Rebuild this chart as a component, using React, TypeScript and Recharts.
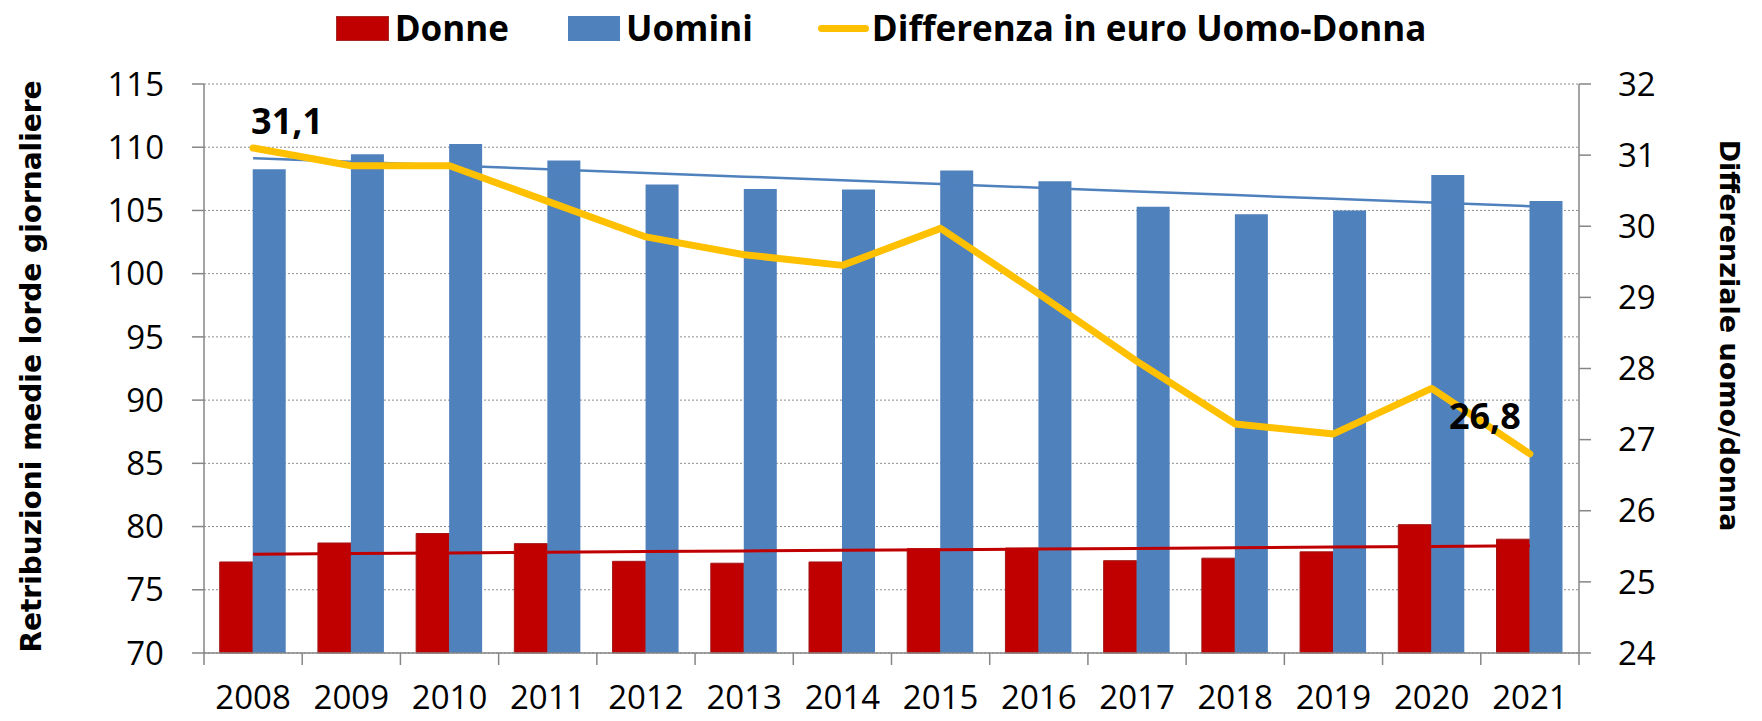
import React from 'react';
import {
  ComposedChart,
  Bar,
  Line,
  XAxis,
  YAxis,
  CartesianGrid,
  LabelList,
} from 'recharts';

const years = ['2008', '2009', '2010', '2011', '2012', '2013', '2014', '2015', '2016', '2017', '2018', '2019', '2020', '2021'];
const donne = [77.2, 78.7, 79.45, 78.65, 77.25, 77.1, 77.2, 78.25, 78.3, 77.3, 77.5, 78.0, 80.15, 79.0];
const uomini = [108.25, 109.45, 110.25, 108.95, 107.05, 106.7, 106.65, 108.15, 107.3, 105.3, 104.7, 105.0, 107.8, 105.75];
const differenza = [31.1, 30.85, 30.85, 30.35, 29.85, 29.6, 29.45, 29.97, 29.05, 28.1, 27.22, 27.08, 27.72, 26.8];
const leftTicks = [70, 75, 80, 85, 90, 95, 100, 105, 110, 115];
const rightTicks = [24, 25, 26, 27, 28, 29, 30, 31, 32];

const legendLabels = { donne: 'Donne', uomini: 'Uomini', diff: 'Differenza in euro Uomo-Donna' };
const leftTitle = 'Retribuzioni medie lorde giornaliere';
const rightTitle = 'Differenziale uomo/donna';

// linear (least squares) trendline of a series, as in the spreadsheet trendline
function linearTrend(vals: number[]): number[] {
  const n = vals.length;
  const mx = (n - 1) / 2;
  const my = vals.reduce((a, b) => a + b, 0) / n;
  let sxy = 0;
  let sxx = 0;
  vals.forEach((v, i) => {
    sxy += (i - mx) * (v - my);
    sxx += (i - mx) * (i - mx);
  });
  const slope = sxy / sxx;
  return vals.map((_, i) => my + slope * (i - mx));
}

const trendD = linearTrend(donne);
const trendU = linearTrend(uomini);

const data = years.map((y, i) => ({
  year: y,
  donne: donne[i],
  uomini: uomini[i],
  diff: differenza[i],
  trendD: trendD[i],
  trendU: trendU[i],
}));

const RED = '#C00000';
const BLUE = '#4F81BD';
const YELLOW = '#FFC000';
const AXIS = '#868686';
const TICK_FONT = "'Open Sans', sans-serif";
const TITLE_FONT = "'DejaVu Sans', Verdana, sans-serif";

const fmt = (v: number) => v.toFixed(1).replace('.', ',');

const XTick = (props: any) => {
  const { x, y, payload, index, visibleTicksCount, width } = props;
  const band = width / visibleTicksCount;
  const left = x - band / 2;
  const right = x + band / 2;
  return (
    <g>
      <line x1={left} x2={left} y1={y} y2={y + 12} stroke={AXIS} strokeWidth={1.5} />
      {index === visibleTicksCount - 1 && (
        <line x1={right} x2={right} y1={y} y2={y + 12} stroke={AXIS} strokeWidth={1.5} />
      )}
      <text x={x} y={y + 44} dy="0.36em" textAnchor="middle" fontSize={33} fontFamily={TICK_FONT} fill="#000">
        {payload.value}
      </text>
    </g>
  );
};

const renderDiffLabel = (props: any) => {
  const { x, y, index, value } = props;
  const last = years.length - 1;
  if (index !== 0 && index !== last) return null;
  const first = index === 0;
  return (
    <text
      x={x + (first ? 34 : -45)}
      y={y + (first ? -27 : -38)}
      dy="0.36em"
      textAnchor="middle"
      fontSize={36}
      fontWeight="bold"
      fontFamily={TICK_FONT}
      fill="#000"
    >
      {fmt(value)}
    </text>
  );
};

const LeftTitle = (props: any) => {
  const { viewBox } = props;
  const cx = viewBox.x + 31;
  const cy = viewBox.y + viewBox.height / 2 - 2;
  return (
    <text
      x={cx}
      y={cy}
      dy="0.36em"
      transform={`rotate(-90 ${cx} ${cy})`}
      textAnchor="middle"
      fontSize={28}
      fontWeight="bold"
      fontFamily={TITLE_FONT}
      fill="#000"
    >
      {leftTitle}
    </text>
  );
};

const RightTitle = (props: any) => {
  const { viewBox } = props;
  const cx = viewBox.x + 151;
  const cy = viewBox.y + viewBox.height / 2 - 33;
  return (
    <text
      x={cx}
      y={cy}
      dy="0.36em"
      transform={`rotate(90 ${cx} ${cy})`}
      textAnchor="middle"
      fontSize={27}
      fontWeight="bold"
      fontFamily={TITLE_FONT}
      fill="#000"
    >
      {rightTitle}
    </text>
  );
};

const legendText: React.CSSProperties = {
  fontFamily: TICK_FONT,
  fontWeight: 700,
  fontSize: 35,
  color: '#000',
  lineHeight: '34px',
  whiteSpace: 'nowrap',
};

const Legend = () => (
  <div
    style={{
      position: 'absolute',
      top: 11,
      left: 0,
      width: 1762,
      height: 34,
      display: 'flex',
      justifyContent: 'center',
      alignItems: 'center',
    }}
  >
    <div style={{ width: 53, height: 25, background: RED, border: '1px solid #A52A2A', boxSizing: 'border-box' }} />
    <div style={{ ...legendText, marginLeft: 6 }}>{legendLabels.donne}</div>
    <div style={{ width: 52, height: 25, background: BLUE, marginLeft: 59 }} />
    <div style={{ ...legendText, marginLeft: 6 }}>{legendLabels.uomini}</div>
    <div style={{ width: 51, height: 7, background: YELLOW, borderRadius: 4, marginLeft: 65 }} />
    <div style={{ ...legendText, marginLeft: 3 }}>{legendLabels.diff}</div>
  </div>
);

export default function App() {
  return (
    <div style={{ position: 'absolute', left: 0, top: 0, width: 1762, height: 721, background: '#fff' }}>
      <Legend />
      <ComposedChart
        width={1762}
        height={721}
        data={data}
        margin={{ top: 84, right: 0, bottom: 0, left: 0 }}
        barCategoryGap="16%"
        barGap={0}
      >
        <CartesianGrid
          yAxisId="left"
          vertical={false}
          stroke="#8c8c8c"
          strokeDasharray="2 2"
        />
        <XAxis
          dataKey="year"
          height={68}
          tickLine={false}
          tickSize={0}
          tickMargin={0}
          axisLine={{ stroke: AXIS, strokeWidth: 1.5 }}
          tick={<XTick />}
          interval={0}
        />
        <YAxis
          yAxisId="left"
          orientation="left"
          width={204}
          domain={[70, 115]}
          ticks={leftTicks}
          interval={0}
          tickSize={12}
          tickMargin={28}
          axisLine={{ stroke: AXIS, strokeWidth: 1.5 }}
          tickLine={{ stroke: AXIS, strokeWidth: 1.5 }}
          tick={{ fontSize: 33, fontFamily: TICK_FONT, fill: '#000' }}
          label={<LeftTitle />}
        />
        <YAxis
          yAxisId="right"
          orientation="right"
          width={183}
          domain={[24, 32]}
          ticks={rightTicks}
          interval={0}
          tickSize={12}
          tickMargin={27}
          axisLine={{ stroke: AXIS, strokeWidth: 1.5 }}
          tickLine={{ stroke: AXIS, strokeWidth: 1.5 }}
          tick={{ fontSize: 33, fontFamily: TICK_FONT, fill: '#000' }}
          label={<RightTitle />}
        />
        <Bar yAxisId="left" dataKey="donne" fill={RED} stroke="#A31515" strokeWidth={1} isAnimationActive={false} />
        <Bar yAxisId="left" dataKey="uomini" fill={BLUE} isAnimationActive={false} />
        <Line
          yAxisId="left"
          dataKey="trendD"
          stroke={RED}
          strokeWidth={3}
          dot={false}
          activeDot={false}
          isAnimationActive={false}
        />
        <Line
          yAxisId="left"
          dataKey="trendU"
          stroke={BLUE}
          strokeWidth={2.5}
          dot={false}
          activeDot={false}
          isAnimationActive={false}
        />
        <Line
          yAxisId="right"
          dataKey="diff"
          stroke={YELLOW}
          strokeWidth={7}
          strokeLinecap="round"
          strokeLinejoin="round"
          dot={false}
          activeDot={false}
          isAnimationActive={false}
        >
          <LabelList dataKey="diff" content={renderDiffLabel} />
        </Line>
      </ComposedChart>
    </div>
  );
}
